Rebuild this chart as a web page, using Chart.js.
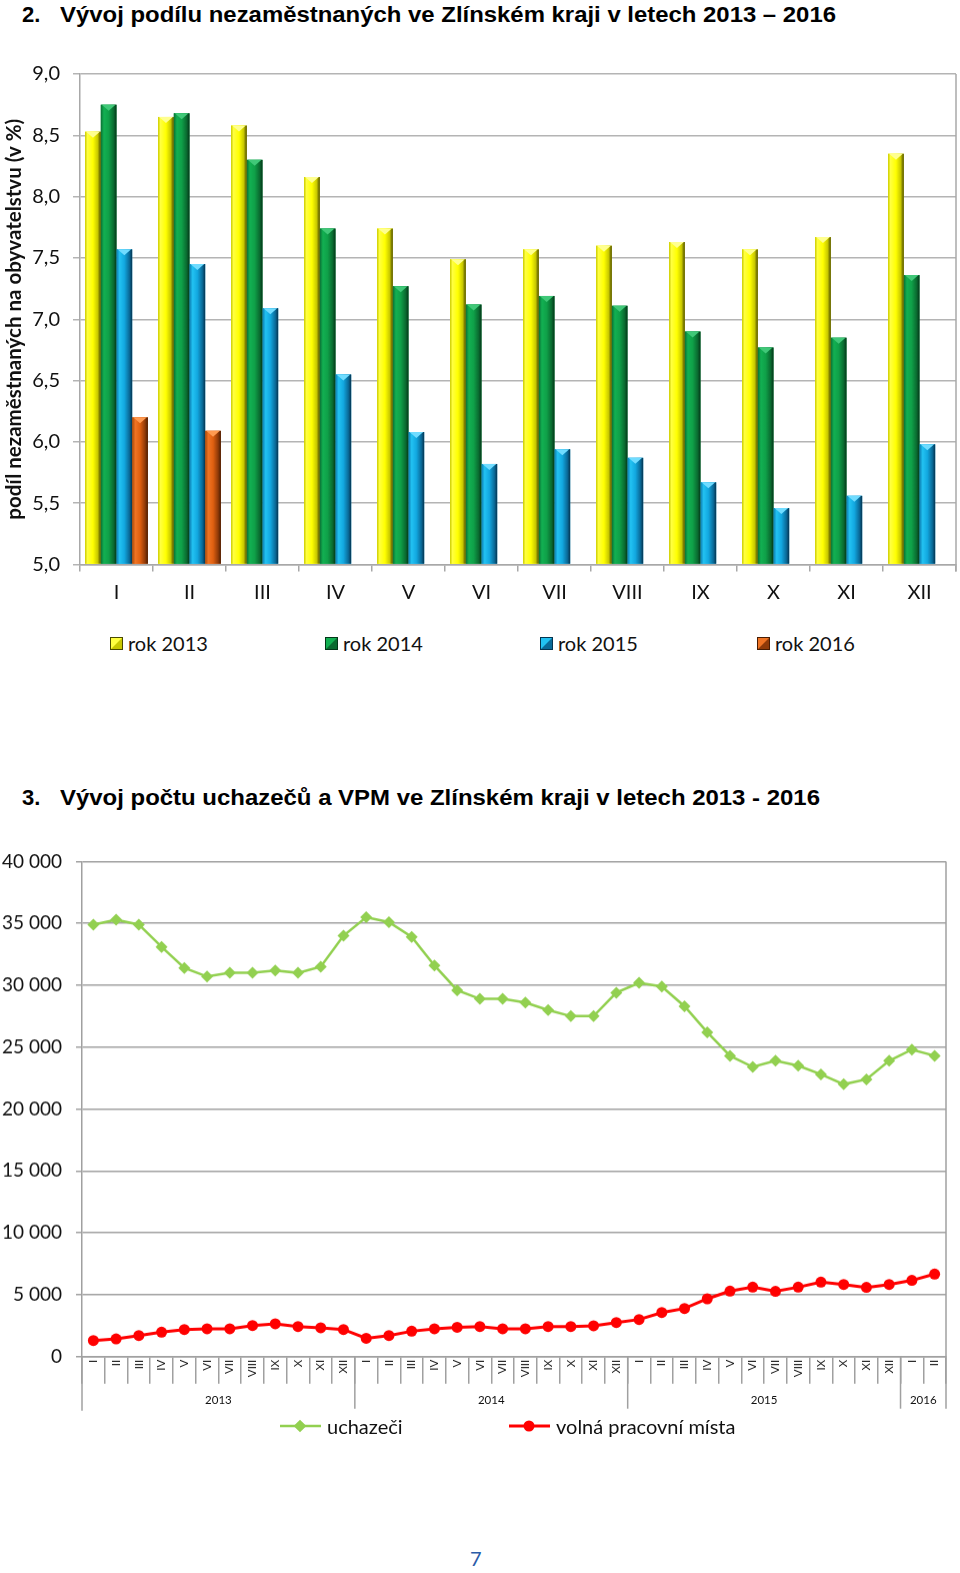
<!DOCTYPE html>
<html>
<head>
<meta charset="utf-8">
<script src="https://cdn.jsdelivr.net/npm/chart.js@4.4.1/dist/chart.umd.min.js"></script>
<style>
  body { margin: 0; background: #fff; width: 960px; height: 1573px; position: relative; overflow: hidden; font-family: Lato, sans-serif; }
  .nadpis { position: absolute; font-family: "Liberation Sans", Arial, sans-serif; font-weight: bold; font-size: 22px; white-space: nowrap; transform-origin: left center; color: #000; }
  .box { position: absolute; left: 0; width: 960px; }
  .leg { position: absolute; font-size: 20px; white-space: nowrap; line-height: 24px; color: #111; display: flex; align-items: center; }
  .mk { display: inline-block; width: 13px; height: 13px; margin-right: 5px; box-sizing: border-box; }
  .strana { position: absolute; left: 470px; top: 1546px; font-size: 20px; color: #2a5ca8; }
</style>
</head>
<body>

<div class="nadpis" style="left:22px; top:2px">2.</div>
<div class="nadpis" data-w="776" style="left:60px; top:2px">Vývoj podílu nezaměstnaných ve Zlínském kraji v letech 2013 – 2016</div>

<div class="box" style="top:48.5px; height:567.5px"><canvas id="podilChart"></canvas></div>
<div id="leg1"></div>

<div class="nadpis" style="left:22px; top:785px">3.</div>
<div class="nadpis" data-w="760" style="left:60px; top:785px">Vývoj počtu uchazečů a VPM ve Zlínském kraji v letech 2013 - 2016</div>

<div class="box" style="top:836.3px; height:583.7px"><canvas id="uchazeciChart"></canvas></div>
<div id="leg2"></div>

<div class="strana">7</div>

<script>
// graf 2 - podil nezamestnanych (v %)
const mesice = ['I', 'II', 'III', 'IV', 'V', 'VI', 'VII', 'VIII', 'IX', 'X', 'XI', 'XII'];
const rok2013 = [8.53, 8.65, 8.58, 8.16, 7.74, 7.49, 7.57, 7.60, 7.63, 7.57, 7.67, 8.35];
const rok2014 = [8.75, 8.68, 8.30, 7.74, 7.27, 7.12, 7.19, 7.11, 6.90, 6.77, 6.85, 7.36];
const rok2015 = [7.57, 7.45, 7.09, 6.55, 6.08, 5.82, 5.94, 5.87, 5.67, 5.46, 5.56, 5.98];
const rok2016 = [6.20, 6.09, null, null, null, null, null, null, null, null, null, null];
const podilTicks = [5.0, 5.5, 6.0, 6.5, 7.0, 7.5, 8.0, 8.5, 9.0];

// graf 3 - uchazeci a VPM
const obdobi = [...mesice, ...mesice, ...mesice, 'I', 'II'];
const roky = ['2013', '2014', '2015', '2016'];
const mesicuVRoce = [12, 12, 12, 2];
const uchazeci = [34900, 35300, 34900, 33100, 31400, 30700, 31000, 31000, 31200, 31000, 31500, 34000,
                  35500, 35100, 33900, 31600, 29600, 28900, 28900, 28600, 28000, 27500, 27500, 29400,
                  30200, 29900, 28300, 26200, 24300, 23400, 23900, 23500, 22800, 22000, 22400, 23900,
                  24800, 24300];
const vpm = [1300, 1430, 1700, 1970, 2190, 2250, 2250, 2510, 2650, 2430, 2330, 2190,
             1480, 1700, 2050, 2250, 2370, 2430, 2250, 2250, 2430, 2430, 2490, 2750,
             3000, 3560, 3890, 4670, 5290, 5610, 5270, 5610, 6020, 5830, 5590, 5830,
             6160, 6670];
const uchazeciTicks = [0, 5000, 10000, 15000, 20000, 25000, 30000, 35000, 40000];

// barvy sloupcu (zaklad + stinovani valce)
const odstiny = [
  { base: '#ffff00', tip: '#ffff90', stops: [[0, '#c8c800'], [0.15, '#ffff40'], [0.5, '#ffff00'], [0.8, '#c8c800'], [1, '#4a4a00']] },
  { base: '#10a048', tip: '#40c878', stops: [[0, '#0a7034'], [0.2, '#12b052'], [0.5, '#0fa048'], [0.82, '#0a6a30'], [1, '#033618']] },
  { base: '#12a8e0', tip: '#70dcff', stops: [[0, '#0c7cb0'], [0.2, '#22c2f2'], [0.5, '#12a8e0'], [0.82, '#0a6a98'], [1, '#043450']] },
  { base: '#e06010', tip: '#ff9a50', stops: [[0, '#a84806'], [0.2, '#f07424'], [0.5, '#e06010'], [0.82, '#903a08'], [1, '#481c02']] }
];

const carka = v => v.toFixed(1).replace('.', ',');
const mezera = v => v === 0 ? '0' : String(v).replace(/\B(?=(\d{3})+(?!\d))/g, ' ');

// stinovani sloupcu + spicka nahore
const bar3d = {
  id: 'bar3d',
  afterDatasetsDraw(chart) {
    const { ctx, chartArea: a } = chart;
    ctx.save();
    ctx.beginPath();
    ctx.rect(a.left, a.top - 2, a.width, a.height + 2);
    ctx.clip();
    chart.data.datasets.forEach((ds, di) => {
      const meta = chart.getDatasetMeta(di);
      const sh = odstiny[di];
      meta.data.forEach((el, i) => {
        if (ds.data[i] == null) return;
        const l = el.x - el.width / 2, r = el.x + el.width / 2;
        const g = ctx.createLinearGradient(l, 0, r, 0);
        sh.stops.forEach(s => g.addColorStop(s[0], s[1]));
        ctx.fillStyle = g;
        ctx.fillRect(l, el.y, el.width, el.base - el.y);
        ctx.fillStyle = sh.tip;
        ctx.beginPath();
        ctx.moveTo(l + 1, el.y);
        ctx.lineTo(r - 1, el.y);
        ctx.lineTo(el.x, el.y + 6);
        ctx.closePath();
        ctx.fill();
      });
    });
    ctx.restore();
  },
  afterDraw(chart) {
    const { ctx, chartArea: a } = chart;
    ctx.save();
    ctx.strokeStyle = '#a8a8a8';
    ctx.lineWidth = 1.5;
    ctx.beginPath();
    ctx.moveTo(a.right, a.top);
    ctx.lineTo(a.right, a.bottom + 7);
    ctx.stroke();
    ctx.restore();
  }
};

new Chart(document.getElementById('podilChart'), {
  type: 'bar',
  data: {
    labels: mesice,
    datasets: [
      { label: 'rok 2013', data: rok2013, backgroundColor: odstiny[0].base },
      { label: 'rok 2014', data: rok2014, backgroundColor: odstiny[1].base },
      { label: 'rok 2015', data: rok2015, backgroundColor: odstiny[2].base },
      { label: 'rok 2016', data: rok2016, backgroundColor: odstiny[3].base }
    ]
  },
  options: {
    responsive: true,
    maintainAspectRatio: false,
    animation: false,
    devicePixelRatio: 1,
    base: 5,
    categoryPercentage: 0.86,
    barPercentage: 1.0,
    layout: { padding: { top: 0, right: 4, left: 0, bottom: 12 } },
    plugins: { legend: { display: false }, tooltip: { enabled: false } },
    scales: {
      x: {
        afterFit: s => { s.height = 40; },
        grid: { drawOnChartArea: false, tickLength: 7, color: '#a8a8a8', lineWidth: 1.5 },
        border: { color: '#a8a8a8', width: 1.5 },
        ticks: { color: '#111', padding: 9, font: { family: 'Lato', size: 20 } }
      },
      y: {
        min: 5,
        max: 9,
        afterFit: s => { s.width = 80; },
        afterBuildTicks: s => { s.ticks = podilTicks.map(v => ({ value: v })); },
        grid: { color: '#b4b4b4', lineWidth: 1.5, tickLength: 7 },
        border: { color: '#a8a8a8', width: 1.5 },
        ticks: { color: '#111', padding: 13, font: { family: 'Lato', size: 20 }, callback: v => carka(v) },
        title: {
          display: true,
          text: 'podíl nezaměstnaných na obyvatelstvu (v %)',
          color: '#111',
          padding: { top: 2, bottom: 0 },
          font: { family: 'Lato', size: 20.5, weight: 'bold' }
        }
      }
    }
  },
  plugins: [bar3d]
});

// roky pod osou x
const rokyOsa = {
  id: 'rokyOsa',
  afterDraw(chart) {
    const { ctx, chartArea: a, scales: { x } } = chart;
    const half = (x.getPixelForValue(1) - x.getPixelForValue(0)) / 2;
    const hranice = [a.left];
    let idx = 0;
    mesicuVRoce.forEach(n => { idx += n; hranice.push(x.getPixelForValue(idx - 1) + half); });
    ctx.save();
    ctx.strokeStyle = '#a0a0a0';
    ctx.lineWidth = 1.5;
    hranice.forEach((px, k) => {
      ctx.beginPath();
      ctx.moveTo(px, k === hranice.length - 1 ? a.top : a.bottom);
      ctx.lineTo(px, a.bottom + (k === 0 ? 54 : 52));
      ctx.stroke();
    });
    ctx.fillStyle = '#111';
    ctx.font = '11.5px Lato';
    ctx.textAlign = 'center';
    ctx.textBaseline = 'middle';
    roky.forEach((r, k) => ctx.fillText(r, (hranice[k] + hranice[k + 1]) / 2, a.bottom + 44));
    ctx.restore();
  }
};

const styly = [
  { color: '#92d050', width: 2.5, point: 'rectRot', radius: 6 },
  { color: '#ff0000', width: 3, point: 'circle', radius: 5.5 }
];

new Chart(document.getElementById('uchazeciChart'), {
  type: 'line',
  data: {
    labels: obdobi,
    datasets: [
      { label: 'uchazeči', data: uchazeci },
      { label: 'volná pracovní místa', data: vpm }
    ].map((d, i) => Object.assign(d, {
      borderColor: styly[i].color,
      backgroundColor: styly[i].color,
      borderWidth: styly[i].width,
      pointStyle: styly[i].point,
      pointRadius: styly[i].radius,
      pointBorderWidth: 0,
      tension: 0
    }))
  },
  options: {
    responsive: true,
    maintainAspectRatio: false,
    animation: false,
    devicePixelRatio: 1,
    layout: { padding: { top: 0, right: 14, left: 0, bottom: 8 } },
    plugins: { legend: { display: false }, tooltip: { enabled: false } },
    scales: {
      x: {
        offset: true,
        afterFit: s => { s.height = 56; },
        grid: { offset: true, drawOnChartArea: false, tickLength: 27, color: '#a0a0a0', lineWidth: 1.5 },
        border: { color: '#a0a0a0', width: 1.5 },
        ticks: { autoSkip: false, minRotation: 90, maxRotation: 90, padding: -24, color: '#111', font: { family: 'Lato', size: 11.5 } }
      },
      y: {
        min: 0,
        max: 40000,
        afterFit: s => { s.width = 82; },
        afterBuildTicks: s => { s.ticks = uchazeciTicks.map(v => ({ value: v })); },
        grid: { color: '#a0a0a0', lineWidth: 1.5, tickLength: 6 },
        border: { color: '#a0a0a0', width: 1.5 },
        ticks: { color: '#111', padding: 14, font: { family: 'Lato', size: 19 }, callback: v => mezera(v) }
      }
    }
  },
  plugins: [rokyOsa]
});

// legendy (HTML)
const leg1X = [110, 325, 540, 757];
['rok 2013', 'rok 2014', 'rok 2015', 'rok 2016'].forEach((t, i) => {
  const d = document.createElement('div');
  d.className = 'leg';
  d.style.left = leg1X[i] + 'px';
  d.style.top = '631px';
  const s = odstiny[i].stops;
  d.innerHTML = '<i class="mk" style="background:linear-gradient(135deg,' + s[1][1] + ' 0 48%,' + s[3][1] + ' 52% 100%);border:1px solid ' + s[4][1] + '"></i>' + t;
  document.getElementById('leg1').appendChild(d);
});

const leg2X = [280, 509];
['uchazeči', 'volná pracovní místa'].forEach((t, i) => {
  const st = styly[i];
  const mark = st.point === 'circle'
    ? '<circle cx="20" cy="8" r="' + st.radius + '" fill="' + st.color + '"/>'
    : '<rect x="15.5" y="3.5" width="9" height="9" fill="' + st.color + '" transform="rotate(45 20 8)"/>';
  const d = document.createElement('div');
  d.className = 'leg';
  d.style.left = leg2X[i] + 'px';
  d.style.top = '1414px';
  d.innerHTML = '<svg width="41" height="16" style="margin-right:6px"><line x1="0" y1="8" x2="41" y2="8" stroke="' + st.color + '" stroke-width="' + st.width + '"/>' + mark + '</svg>' + t;
  document.getElementById('leg2').appendChild(d);
});

// nadpisy na sirku predlohy
document.querySelectorAll('[data-w]').forEach(el => {
  const w = el.getBoundingClientRect().width;
  el.style.transform = 'scaleX(' + (el.dataset.w / w) + ')';
});
</script>
</body>
</html>
